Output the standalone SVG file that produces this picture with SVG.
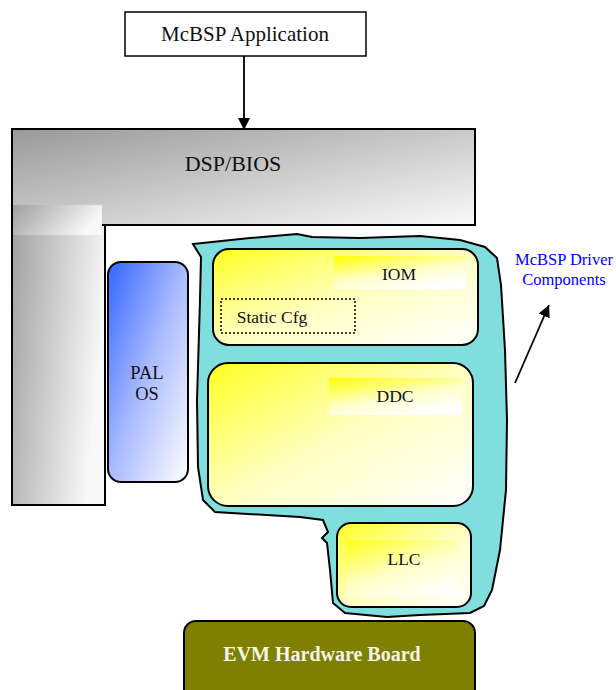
<svg xmlns="http://www.w3.org/2000/svg" width="616" height="690" viewBox="0 0 616 690">
<defs>
<linearGradient id="gGray" x1="0" y1="0" x2="1" y2="1"><stop offset="0" stop-color="#999999"/><stop offset="1" stop-color="#fafafa"/></linearGradient>
<linearGradient id="gGrayH" x1="0" y1="0" x2="1" y2="0.3"><stop offset="0" stop-color="#a0a0a0"/><stop offset="1" stop-color="#f8f8f8"/></linearGradient>
<linearGradient id="gBlue" x1="0" y1="0" x2="1" y2="1"><stop offset="0" stop-color="#3366ff"/><stop offset="0.5" stop-color="#aabbff"/><stop offset="1" stop-color="#ffffff"/></linearGradient>
<linearGradient id="gYel" x1="0" y1="0" x2="1" y2="1"><stop offset="0" stop-color="#ffff22"/><stop offset="0.5" stop-color="#ffffc0"/><stop offset="1" stop-color="#ffffff"/></linearGradient>
<linearGradient id="gYelP" x1="0" y1="0" x2="0.6" y2="1"><stop offset="0" stop-color="#ffff00"/><stop offset="0.6" stop-color="#ffffcc"/><stop offset="1" stop-color="#ffffff"/></linearGradient>
<marker id="ah2" viewBox="0 0 10 10" refX="10" refY="5" markerWidth="12" markerHeight="12" orient="auto" markerUnits="userSpaceOnUse"><path d="M0,0 L10,5 L0,10 z" fill="#000"/></marker>
</defs>
<style>
.t{font-family:"Liberation Serif","Times New Roman",serif;fill:#111;text-anchor:middle}
.box{stroke:#000;stroke-width:2}
</style>
<g id="app"><rect x="125" y="12" width="241" height="44" fill="#fff" stroke="#000" stroke-width="1.5"/><text class="t" x="245" y="41" font-size="21">McBSP Application</text></g>
<g id="dspbios">
<rect x="12" y="218" width="93" height="287" fill="url(#gGrayH)" class="box"/>
<rect x="12" y="129" width="463" height="96" fill="url(#gGray)" class="box"/>
<rect x="13" y="205" width="89" height="30" fill="url(#gGrayH)"/>
<text class="t" x="233" y="171" font-size="22">DSP/BIOS</text>
</g>
<g id="pal"><rect x="108" y="262" width="80" height="220" rx="13" fill="url(#gBlue)" class="box"/><text class="t" x="147" y="379" font-size="18.5">PAL</text><text class="t" x="147" y="400" font-size="18.5">OS</text></g>
<g id="blob"><path d="M193,244 L250,238 L297,234 L312,237 L360,238 L420,236 L460,240 L485,247 L497,258 L501,285 L505,350 L507,420 L506,490 L500,550 L492,590 L484,606 L470,613 L420,615 L387,617 L345,613 L333,603 L330,570 L327,543 L322,538 L328,532 L323,520 L300,517 L215,512 L203,500 L198,467 L197,400 L200,300 L201,257 Z" fill="#80dede" stroke="#000" stroke-width="2"/></g>
<g id="iom"><rect x="213" y="249" width="265" height="96" rx="16" fill="url(#gYel)" class="box"/><rect x="334" y="256" width="132" height="33" fill="url(#gYelP)"/><text class="t" x="399" y="280" font-size="17.5">IOM</text></g>
<g id="staticcfg"><rect x="221" y="299" width="134" height="34" fill="none" stroke="#000" stroke-width="1.5" stroke-dasharray="2,2"/><text class="t" x="272" y="323" font-size="17.5">Static Cfg</text></g>
<g id="ddc"><rect x="208" y="363" width="265" height="143" rx="20" fill="url(#gYel)" class="box"/><rect x="329" y="378" width="133" height="37" fill="url(#gYelP)"/><text class="t" x="395" y="402" font-size="17.5">DDC</text></g>
<g id="llc"><rect x="337" y="523" width="134" height="84" rx="14" fill="url(#gYel)" class="box"/><rect x="346" y="540" width="112" height="57" fill="url(#gYelP)" opacity="0.7"/><text class="t" x="404" y="565" font-size="17.5">LLC</text></g>
<g id="evm"><rect x="184" y="621" width="291" height="80" rx="12" fill="#808000" class="box"/><text class="t" x="322" y="661" font-size="20" font-weight="bold" style="fill:#f5f5e8">EVM Hardware Board</text></g>
<g id="label"><text class="t" x="564" y="265" font-size="16.5" style="fill:#0000ff">McBSP Driver</text><text class="t" x="564" y="285" font-size="16.5" style="fill:#0000ff">Components</text></g>
<g id="connectors">
<line x1="244" y1="56" x2="244" y2="130" stroke="#000" stroke-width="1.8" marker-end="url(#ah2)"/>
<line x1="515" y1="383" x2="549" y2="305" stroke="#000" stroke-width="1.8" marker-end="url(#ah2)"/>
</g>
</svg>
